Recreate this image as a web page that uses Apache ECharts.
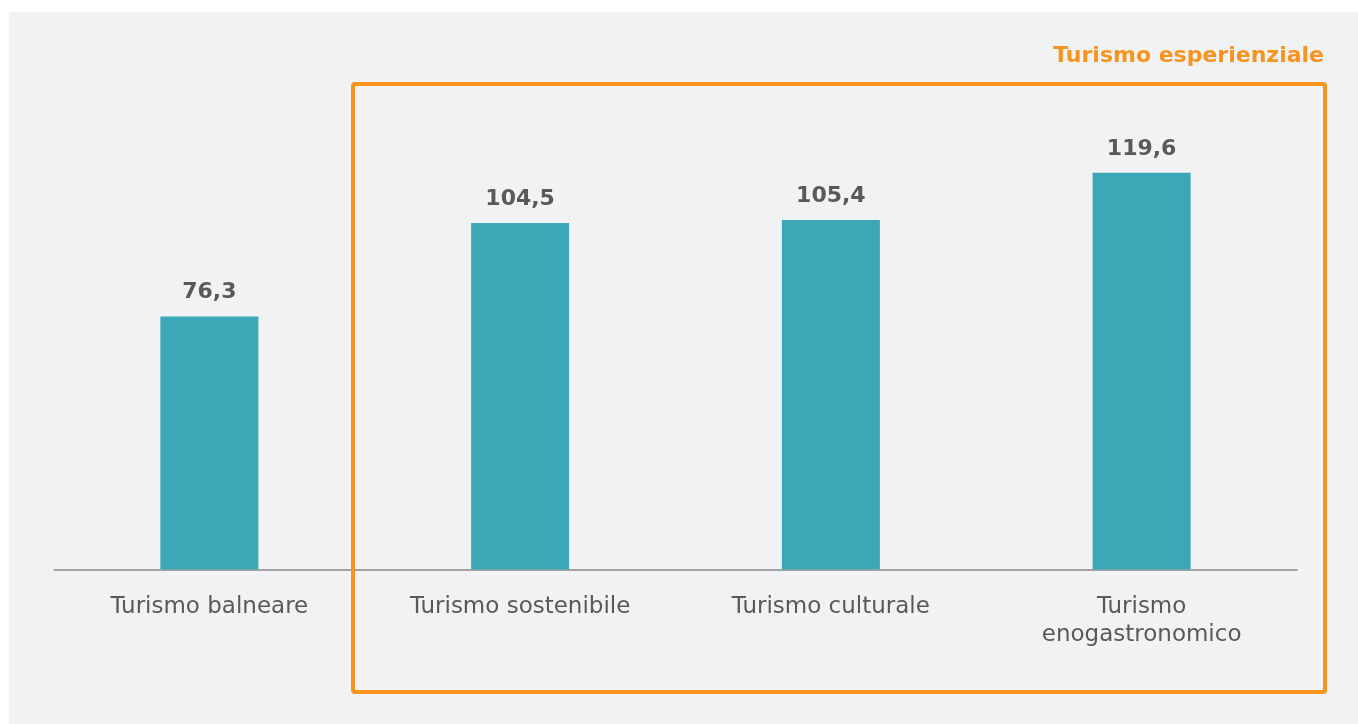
<!DOCTYPE html>
<html>
<head>
<meta charset="utf-8">
<script src="https://cdn.jsdelivr.net/npm/echarts@6/dist/echarts.min.js"></script>
<style>
html,body{margin:0;padding:0;background:#ffffff;}
#chart{width:1358px;height:724px;}
</style>
</head>
<body>
<div id="chart"></div>
<script>
const categories = ['Turismo balneare', 'Turismo sostenibile', 'Turismo culturale', 'Turismo\nenogastronomico'];
const values = [76.3, 104.5, 105.4, 119.6];
const groupTitle = 'Turismo esperienziale';

const FONT = '"DejaVu Sans", sans-serif';
const chart = echarts.init(document.getElementById('chart'), null, {renderer: 'canvas'});
chart.setOption({
  backgroundColor: '#ffffff',
  animation: false,
  grid: {left: 54, right: 61, top: 72, bottom: 154.5},
  xAxis: {
    type: 'category',
    data: categories,
    axisLine: {lineStyle: {color: '#8a8a8a', width: 1.5}},
    axisTick: {show: false},
    axisLabel: {color: '#58595b', fontSize: 23, fontFamily: FONT, margin: 24, lineHeight: 28}
  },
  yAxis: {type: 'value', min: 0, max: 150, show: false, splitLine: {show: false}},
  series: [{
    type: 'bar',
    data: values,
    barWidth: 98,
    itemStyle: {color: '#3aa8b7'},
    label: {
      show: true, position: 'top', distance: 13,
      color: '#58595b', fontSize: 22, fontWeight: 'bold', fontFamily: FONT,
      formatter: p => p.value.toFixed(1).replace('.', ',')
    }
  }],
  graphic: [
    {type: 'rect', z: -10, shape: {x: 9, y: 12, width: 1349, height: 712}, style: {fill: '#f1f2f4'}, silent: true},
    {type: 'rect', z: 10, shape: {x: 353, y: 84, width: 972, height: 608, r: 2}, style: {fill: 'none', stroke: '#f7941d', lineWidth: 4}, silent: true},
    {type: 'text', z: 10, right: 34, top: 45, style: {text: groupTitle, fill: '#f7941d', font: 'bold 22px ' + FONT}}
  ]
});
</script>
</body>
</html>
